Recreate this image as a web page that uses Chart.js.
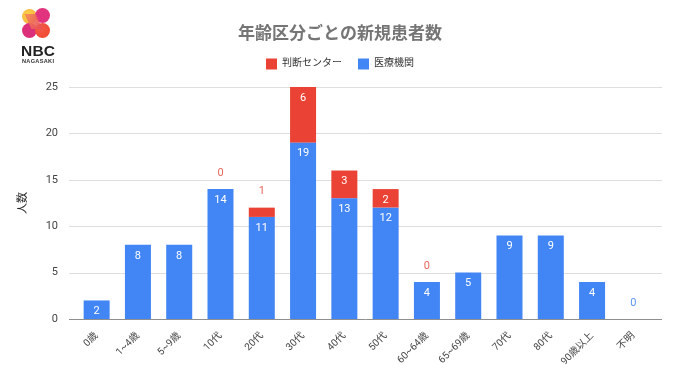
<!DOCTYPE html>
<html><head><meta charset="utf-8">
<script src="https://cdn.jsdelivr.net/npm/chart.js@4.4.0/dist/chart.umd.min.js"></script>
<style>
html,body{margin:0;padding:0;background:#fff;}
#wrap{position:relative;width:680px;height:382px;overflow:hidden;}
#c{position:absolute;left:0;top:0;}
#logo{position:absolute;left:0;top:0;width:80px;height:70px;}
.dot{position:absolute;width:15px;height:15px;border-radius:50%;}
#nbc{position:absolute;left:21px;top:42px;font:bold 15.5px "Liberation Sans",Arial,sans-serif;color:#222;letter-spacing:0.2px;}
#naga{position:absolute;left:22px;top:58px;font:bold 5.6px "Liberation Sans",Arial,sans-serif;color:#333;letter-spacing:0.3px;}
</style></head>
<body>
<div id="wrap">
<canvas id="c" width="680" height="382"></canvas>
<div id="logo">
  <div class="dot" style="left:22px;top:9px;background:radial-gradient(circle at 40% 40%,#fcd24a,#f5a637);"></div>
  <div class="dot" style="left:35px;top:8px;background:#e2347e;"></div>
  <div class="dot" style="left:22px;top:23px;background:#dc2f7a;"></div>
  <div class="dot" style="left:35px;top:23px;background:radial-gradient(circle at 35% 35%,#f35a4a,#f0452b);"></div>
  <div style="position:absolute;left:28px;top:14px;width:11px;height:15px;background:linear-gradient(135deg,#f08a5a,#e94a56);transform:skewX(25deg);opacity:0.9;"></div>
  <div id="nbc">NBC</div>
  <div id="naga">NAGASAKI</div>
</div>
</div>
<script>
const categories = ['0歳','1~4歳','5~9歳','10代','20代','30代','40代','50代','60~64歳','65~69歳','70代','80代','90歳以上','不明'];
const hospitalCounts = [2, 8, 8, 14, 11, 19, 13, 12, 4, 5, 9, 9, 4, 0];
const centerCounts = [null, null, null, 0, 1, 6, 3, 2, 0, null, null, null, null, null];
const yTicks = [0, 5, 10, 15, 20, 25];
const seriesNames = ['医療機関', '判断センター'];
const titleText = '年齢区分ごとの新規患者数';
const yAxisTitle = '人数';

const BLUE = '#4285F4';
const RED = '#EA4335';
const JP = "Roboto, 'Noto Sans CJK JP', sans-serif";

const gridPlugin = {
  id: 'extGrid',
  beforeDatasetsDraw(chart) {
    const {ctx, chartArea} = chart;
    const ys = chart.scales.y;
    ctx.save();
    yTicks.forEach(v => {
      const py = Math.round(ys.getPixelForValue(v)) + 0.5;
      ctx.beginPath();
      ctx.strokeStyle = v === 0 ? '#8f8f8f' : '#dedede';
      ctx.lineWidth = 1;
      ctx.moveTo(chartArea.left - 7, py);
      ctx.lineTo(chartArea.right + 8, py);
      ctx.stroke();
    });
    ctx.restore();
  }
};

const labelPlugin = {
  id: 'barLabels',
  afterDatasetsDraw(chart) {
    const {ctx} = chart;
    ctx.save();
    ctx.font = '11px ' + JP;
    ctx.textAlign = 'center';
    ctx.textBaseline = 'middle';
    chart.data.datasets.forEach((ds, di) => {
      const meta = chart.getDatasetMeta(di);
      meta.data.forEach((el, i) => {
        const v = ds.data[i];
        if (v === null || v === undefined) return;
        const inside = di === 0 ? v > 0 : v >= 2;
        if (inside) {
          ctx.fillStyle = '#ffffff';
          ctx.fillText(String(v), el.x, el.y + 11);
        } else {
          ctx.fillStyle = di === 0 ? '#5b95f5' : '#e8675b';
          ctx.fillText(String(v), el.x, el.y - 16);
        }
      });
    });
    ctx.restore();
  }
};

new Chart(document.getElementById('c'), {
  type: 'bar',
  data: {
    labels: categories,
    datasets: [
      {label: seriesNames[0], data: hospitalCounts, backgroundColor: BLUE, barPercentage: 0.63, categoryPercentage: 1.0, yAxisID: 'y'},
      {label: seriesNames[1], data: centerCounts, backgroundColor: RED, barPercentage: 0.63, categoryPercentage: 1.0, yAxisID: 'y'}
    ]
  },
  options: {
    responsive: false,
    devicePixelRatio: 1,
    animation: false,
    layout: {padding: 0},
    plugins: {
      title: {
        display: true, text: titleText, color: '#757575',
        font: {family: JP, size: 17, weight: 'bold'},
        padding: {top: 25, bottom: -3}
      },
      subtitle: {
        display: true, text: ' ', weight: 500, position: 'top',
        font: {size: 5, lineHeight: 1.2},
        padding: {top: 0, bottom: 1.6}
      },
      legend: {
        display: true, reverse: true, position: 'top',
        labels: {
          boxWidth: 11, boxHeight: 11, color: '#333', padding: 16,
          font: {family: JP, size: 10}
        }
      },
      tooltip: {enabled: false}
    },
    scales: {
      x: {
        stacked: true, offset: true,
        grid: {display: false}, border: {display: false},
        ticks: {color: '#444', font: {family: JP, size: 10}, minRotation: 45, maxRotation: 45, autoSkip: false, padding: 3},
        afterFit(s) { s.height = 63; }
      },
      y: {
        stacked: true, min: 0, max: 25, position: 'left',
        grid: {display: false}, border: {display: false},
        ticks: {stepSize: 5, color: '#444', font: {family: JP, size: 11}, padding: 10},
        title: {display: true, text: yAxisTitle, color: '#222', font: {family: JP, size: 11}, padding: {top: 17, bottom: 0}},
        afterFit(s) { s.width = 76; }
      },
      yRight: {
        type: 'linear', position: 'right', display: true,
        grid: {display: false}, border: {display: false},
        ticks: {display: false},
        afterFit(s) { s.width = 26; }
      }
    }
  },
  plugins: [gridPlugin, labelPlugin]
});
</script>
</body></html>
